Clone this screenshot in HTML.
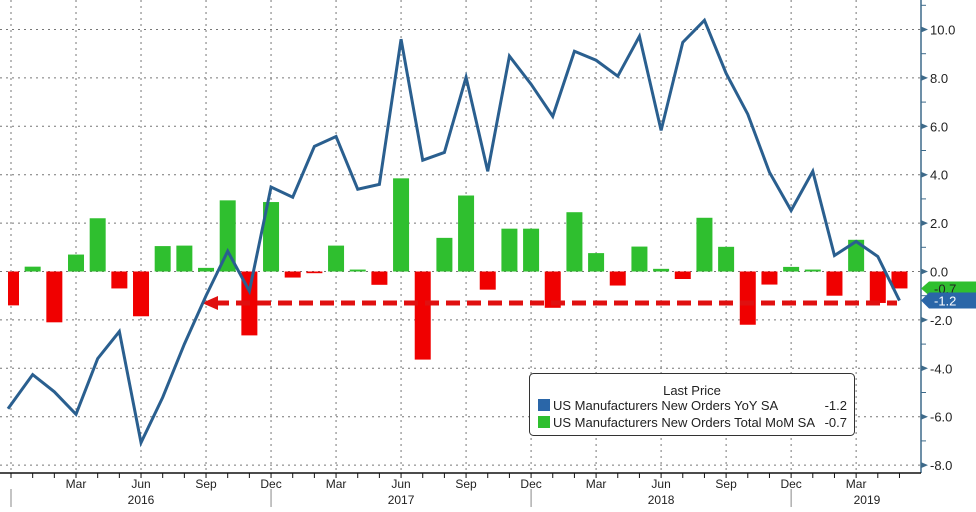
<!DOCTYPE html>
<html><head><meta charset="utf-8"><style>
html,body{margin:0;padding:0;background:#fff;}
svg{display:block;font-family:"Liberation Sans",sans-serif;}
</style></head><body>
<svg id="c" width="976" height="512" viewBox="0 0 976 512"></svg>
<script>
const months = ["Dec15","Jan16","Feb16","Mar16","Apr16","May16","Jun16","Jul16","Aug16","Sep16","Oct16","Nov16","Dec16","Jan17","Feb17","Mar17","Apr17","May17","Jun17","Jul17","Aug17","Sep17","Oct17","Nov17","Dec17","Jan18","Feb18","Mar18","Apr18","May18","Jun18","Jul18","Aug18","Sep18","Oct18","Nov18","Dec18","Jan19","Feb19","Mar19","Apr19","May19"];
const momValues = [-1.4,0.2,-2.1,0.7,2.2,-0.7,-1.85,1.05,1.07,0.15,2.94,-2.64,2.87,-0.25,-0.07,1.07,0.08,-0.55,3.85,-3.64,1.39,3.14,-0.75,1.77,1.77,-1.5,2.45,0.76,-0.58,1.03,0.11,-0.31,2.22,1.02,-2.2,-0.54,0.19,0.08,-1.0,1.31,-1.3,-0.7];
const yoyValues = [-5.67,-4.26,-4.97,-5.9,-3.6,-2.48,-7.07,-5.2,-3.0,-1.0,0.84,-0.81,3.49,3.07,5.17,5.58,3.4,3.6,9.6,4.6,4.92,8.03,4.14,8.9,7.74,6.41,9.1,8.73,8.07,9.72,5.83,9.47,10.38,8.19,6.5,4.1,2.52,4.14,0.66,1.24,0.62,-1.2];
const yTicks = [10,8,6,4,2,0,-2,-4,-6,-8];
const monthLabels = [["Mar",3],["Jun",6],["Sep",9],["Dec",12],["Mar",15],["Jun",18],["Sep",21],["Dec",24],["Mar",27],["Jun",30],["Sep",33],["Dec",36],["Mar",39]];
const yearLabels = [["2016",6],["2017",18],["2018",30],["2019",39.5]];
const yearSeps = [0,12,24,36];

const NS="http://www.w3.org/2000/svg";
const svg=document.getElementById('c');
const X=i=>11+i*21.67;
const Y=v=>271.5-v*24.2;
function mk(t,a,p){const e=document.createElementNS(NS,t);for(const k in a)e.setAttribute(k,a[k]);(p||svg).appendChild(e);return e;}

yTicks.forEach(v=>{
  const g=mk('line',{x1:0,x2:920,y1:Y(v),y2:Y(v),stroke:'#777','stroke-width':1,'stroke-dasharray':'2,4'});
  
  
});
for(let i=0;i<months.length;i+=3){
  const g=mk('line',{x1:X(i),x2:X(i),y1:0,y2:470,stroke:'#777','stroke-width':1,'stroke-dasharray':'2,4'});
  
  
}
momValues.forEach((v,i)=>{
  const y0=Y(0),y1=Y(v);
  const r=mk('rect',{x:Math.max(X(i)-8,8),y:Math.min(y0,y1),width:X(i)-8<8?X(i)+8-8:16,height:Math.abs(y1-y0),fill:v>=0?'#2fbf2f':'#f00000'});
  
  
});
const arr=mk('line',{x1:215,x2:897,y1:Y(-1.3),y2:Y(-1.3),stroke:'#e01010','stroke-width':5,'stroke-dasharray':'14,7'});


const ah=mk('polygon',{points:`202,${Y(-1.3)} 218,${Y(-1.3)-7} 218,${Y(-1.3)+7}`,fill:'#e01010'});


const pts=yoyValues.map((v,i)=>(i==0?8:X(i))+','+Y(v)).join(' ');
const ln=mk('polyline',{points:pts,fill:'none',stroke:'#2a5f8f','stroke-width':3,'stroke-linejoin':'miter'});


const ax=mk('line',{x1:921,x2:921,y1:0,y2:473,stroke:'#3d6a8a','stroke-width':1.5});


for(let v=11;v>=-8;v--){
  const t=mk('line',{x1:921,x2:926,y1:Y(v),y2:Y(v),stroke:'#3d6a8a'});
  
  
}
yTicks.forEach(v=>{
  const tr=mk('polygon',{points:`921,${Y(v)-3} 928,${Y(v)} 921,${Y(v)+3}`,fill:'#3d6a8a'});
  
  
  const t=mk('text',{x:930,y:Y(v)+5,'font-size':13,fill:'#222'});
  t.textContent=v.toFixed(1);
  
  
});
const gb=mk('polygon',{points:`921,${Y(-0.7)} 929,${Y(-0.7)-7} 976,${Y(-0.7)-7} 976,${Y(-0.7)+7} 929,${Y(-0.7)+7}`,fill:'#2fbf2f'});


const gt=mk('text',{x:934,y:Y(-0.7)+5,'font-size':13,fill:'#222'});gt.textContent='-0.7';


const bb=mk('polygon',{points:`921,${Y(-1.2)} 929,${Y(-1.2)-8} 976,${Y(-1.2)-8} 976,${Y(-1.2)+8} 929,${Y(-1.2)+8}`,fill:'#2a66a8'});


const bt=mk('text',{x:934,y:Y(-1.2)+5,'font-size':13,fill:'#fff'});bt.textContent='-1.2';


const xa=mk('line',{x1:0,x2:921,y1:473,y2:473,stroke:'#111','stroke-width':1.5});


months.forEach((m,i)=>{
  const t=mk('line',{x1:X(i),x2:X(i),y1:473,y2:478,stroke:'#111'});
  
  
});
monthLabels.forEach(([l,i])=>{
  const t=mk('text',{x:X(i),y:488,'font-size':12,'text-anchor':'middle',fill:'#222'});
  t.textContent=l;
  
  
});
yearLabels.forEach(([l,i])=>{
  const t=mk('text',{x:X(i),y:504,'font-size':12,'text-anchor':'middle',fill:'#222'});
  t.textContent=l;
  
  
});
yearSeps.forEach(i=>{
  const s=mk('line',{x1:X(i),x2:X(i),y1:489,y2:507,stroke:'#888'});
  
  
});
</script>
<svg style="position:absolute;left:0;top:0" width="976" height="512">
<g font-family="Liberation Sans, sans-serif" font-size="13" fill="#222">
<rect x="529.5" y="373.5" width="325" height="62" rx="4" fill="#fff" stroke="#333"/>
<text x="692" y="395" text-anchor="middle">Last Price</text>
<rect x="538" y="399" width="12" height="12" fill="#2a66a8"/>
<text x="553" y="410">US Manufacturers New Orders YoY SA</text>
<text x="847" y="410" text-anchor="end">-1.2</text>
<rect x="538" y="416" width="12" height="12" fill="#2fbf2f"/>
<text x="553" y="427">US Manufacturers New Orders Total MoM SA</text>
<text x="847" y="427" text-anchor="end">-0.7</text>
</g></svg>
</body></html>
